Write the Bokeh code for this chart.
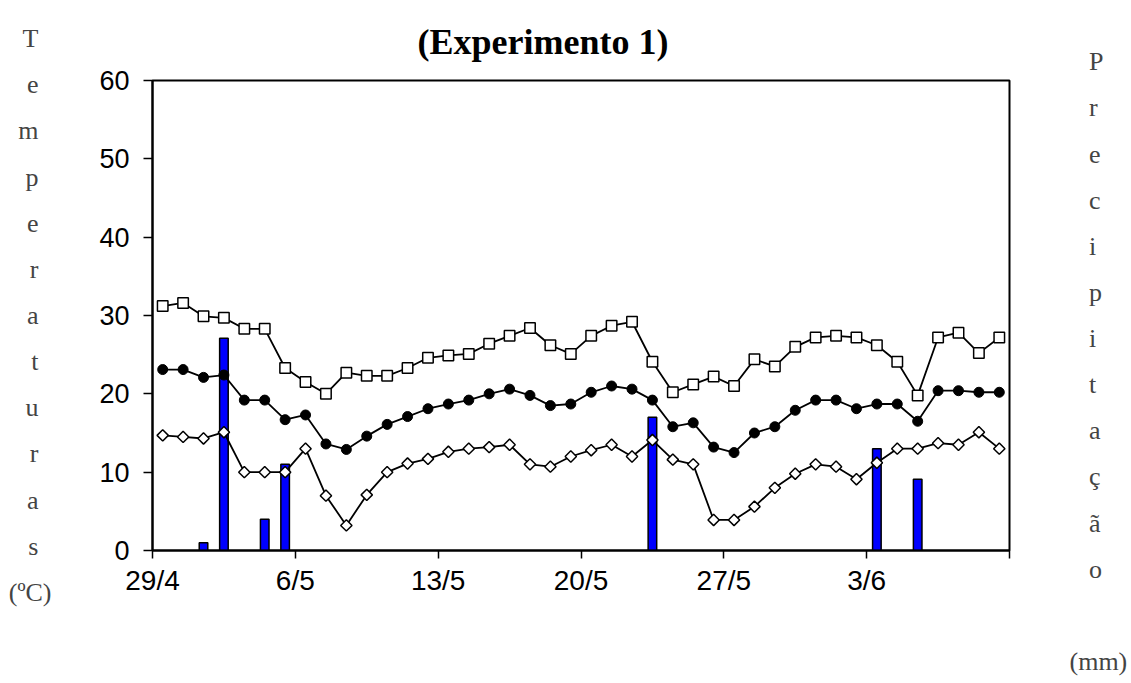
import math
from bokeh.plotting import figure
from bokeh.models import Range1d, FixedTicker, LinearAxis
from bokeh.embed import file_html
from bokeh.resources import INLINE

# ---- data (one value per day, 29/4 .. 9/6) ----
days = list(range(42))
t_max = [31.2, 31.6, 29.9, 29.7, 28.3, 28.3, 23.3, 21.5, 20.0, 22.7, 22.3, 22.3, 23.3, 24.6,
         24.9, 25.1, 26.4, 27.4, 28.4, 26.2, 25.1, 27.4, 28.7, 29.2, 24.1, 20.2, 21.2, 22.2,
         21.0, 24.4, 23.5, 26.0, 27.2, 27.4, 27.2, 26.2, 24.1, 19.8, 27.2, 27.8, 25.2, 27.2]
t_med = [23.1, 23.1, 22.1, 22.4, 19.2, 19.2, 16.7, 17.3, 13.6, 12.9, 14.6, 16.1, 17.1, 18.1,
         18.7, 19.2, 20.0, 20.6, 19.8, 18.5, 18.7, 20.2, 21.0, 20.6, 19.2, 15.8, 16.3, 13.2,
         12.5, 15.0, 15.8, 17.9, 19.2, 19.2, 18.1, 18.7, 18.7, 16.5, 20.4, 20.4, 20.2, 20.2]
t_min = [14.7, 14.5, 14.3, 15.1, 10.0, 10.0, 10.0, 13.0, 7.0, 3.2, 7.1, 10.0, 11.1, 11.7,
         12.6, 13.0, 13.2, 13.5, 11.0, 10.7, 12.0, 12.8, 13.5, 12.0, 14.1, 11.6, 11.0, 3.9,
         3.9, 5.6, 8.0, 9.8, 11.0, 10.7, 9.1, 11.2, 13.0, 13.0, 13.7, 13.5, 15.1, 13.0]
prec_day = [2, 3, 5, 6, 24, 35, 37]
prec_mm = [1.0, 27.1, 4.0, 11.0, 17.0, 13.0, 9.1]

tick_pos = [0, 7, 14, 21, 28, 35, 42]
tick_labels = ["29/4", "6/5", "13/5", "20/5", "27/5", "3/6", ""]
y_ticks = [0, 10, 20, 30, 40, 50, 60]

title_text = "(Experimento 1)"
left_label = list("Temperaturas") + ["(ºC)"]
right_label = list("Precipitação") + ["(mm)"]

# ---- geometry ----
W, H = 1131, 683
FL, FR, FT, FB = 152, 122, 80, 133
X0, X1, Y0, Y1 = 0, 42, 0, 60
NB = "\u00a0"

p = figure(width=W, height=H, output_backend="svg", toolbar_location=None,
           x_range=Range1d(X0, X1), y_range=Range1d(Y0, Y1))
p.min_border_left = FL
p.min_border_right = FR
p.min_border_top = FT
p.min_border_bottom = FB
p.xgrid.visible = False
p.ygrid.visible = False
p.outline_line_color = "black"
p.outline_line_width = 2
p.background_fill_color = "white"
p.border_fill_color = "white"

# title
p.title.text = title_text
p.title.text_font = "Liberation Serif"
p.title.text_font_style = "bold"
p.title.text_font_size = "36px"
p.title.text_color = "black"
p.title.align = "left"
p.title.offset = 265
p.title.standoff = 37

xs = [d + 0.5 for d in days]
px_ = [d + 0.5 for d in prec_day]

p.vbar(x=px_, top=prec_mm, width=0.42, fill_color="#0000FF", line_color="black", line_width=1.5)

p.line(xs, t_max, line_color="black", line_width=1.8)
p.scatter(xs, t_max, marker="square", size=10.5, fill_color="white", line_color="black", line_width=1.5)
p.line(xs, t_med, line_color="black", line_width=1.8)
p.scatter(xs, t_med, marker="circle", size=10, fill_color="black", line_color="black", line_width=1)
p.line(xs, t_min, line_color="black", line_width=1.8)
p.scatter(xs, t_min, marker="square", angle=math.pi / 4, size=8, fill_color="white",
          line_color="black", line_width=1.5)

# axes
for ax in (p.xaxis, p.yaxis):
    ax.axis_line_color = "black"
    ax.axis_line_width = 2
    ax.major_tick_line_color = "black"
    ax.major_tick_line_width = 1.5
    ax.minor_tick_line_color = None
    ax.major_tick_in = 0
    ax.major_label_text_font = "Liberation Sans"
    ax.major_label_text_color = "black"

p.xaxis.major_label_text_font_size = "28px"
p.yaxis.major_label_text_font_size = "27px"
p.xaxis.ticker = FixedTicker(ticks=tick_pos)
p.xaxis.major_label_overrides = {t: l for t, l in zip(tick_pos, tick_labels)}
p.xaxis.major_tick_out = 8
p.xaxis.major_label_standoff = 6
p.yaxis.ticker = FixedTicker(ticks=y_ticks)
p.yaxis.major_tick_out = 9
p.yaxis.major_label_standoff = 14

LH = 1.591

# stacked axis titles (single letters padded so they sit centred over the unit text)
left_lines = [c + NB * 2 for c in left_label[:-1]] + [left_label[-1]]
yax = p.yaxis[0]
yax.axis_label = "\n".join(left_lines)
yax.axis_label_orientation = "horizontal"
yax.axis_label_text_font = "Liberation Serif"
yax.axis_label_text_font_style = "normal"
yax.axis_label_text_font_size = "26px"
yax.axis_label_text_line_height = LH
yax.axis_label_standoff = 45

right_lines = ["", ""] + [NB * 3 + c for c in right_label[:-1]] + ["", right_label[-1]]
rax = LinearAxis(ticker=FixedTicker(ticks=[]), axis_line_color=None,
                 major_tick_line_color=None, minor_tick_line_color=None)
rax.axis_label = "\n".join(right_lines)
rax.axis_label_orientation = "horizontal"
rax.axis_label_text_font = "Liberation Serif"
rax.axis_label_text_font_style = "normal"
rax.axis_label_text_font_size = "26px"
rax.axis_label_text_line_height = LH
rax.axis_label_standoff = 60
p.add_layout(rax, "right")

open("out.html", "w").write(file_html(p, INLINE))
